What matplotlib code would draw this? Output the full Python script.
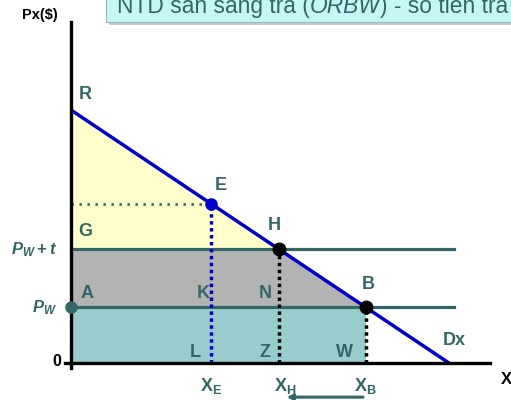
import numpy as np
import matplotlib.pyplot as plt
from matplotlib.patches import Rectangle

plt.rcParams['font.family'] = ['Liberation Sans', 'DejaVu Sans']
plt.rcParams['mathtext.fontset'] = 'custom'
plt.rcParams['mathtext.rm'] = 'Liberation Sans:bold'
plt.rcParams['mathtext.it'] = 'Liberation Sans:italic:bold'
plt.rcParams['mathtext.bf'] = 'Liberation Sans:bold'

# demand Dx: P = p_max - slope * X
p_max = 10.0
x_max = 15.0
p_w = 2.2
p_wt = 4.5
p_e = 6.3
x_e = (p_max - p_e) * x_max / p_max
x_h = (p_max - p_wt) * x_max / p_max
x_b = (p_max - p_w) * x_max / p_max
line_end = 15.2

teal = "#336666"
blue = "#0000cc"

fig = plt.figure(figsize=(5.11, 4.0), dpi=100)
ax = fig.add_axes([71 / 511, 37 / 400, 419 / 511, 341 / 400])
ax.set_xlim(0, 16.63)
ax.set_ylim(0, 13.48)
for s in ax.spines.values():
    s.set_visible(False)
ax.set_xticks([])
ax.set_yticks([])

# areas
ax.fill([0, x_h, 0], [p_max, p_wt, p_wt], color="#ffffcc", lw=0)
ax.fill([0, x_h, x_b, 0], [p_wt, p_wt, p_w, p_w], color="#b3b3b3", lw=0)
ax.fill([0, x_b, x_b, 0], [p_w, p_w, 0, 0], color="#99cccc", lw=0)

# price lines
ax.plot([0, line_end], [p_wt, p_wt], color=teal, lw=2.3)
ax.plot([0, line_end], [p_w, p_w], color=teal, lw=2.3)

# dotted guides
ax.plot([0, x_e], [p_e, p_e], color=teal, lw=1.8, ls=(0, (1, 2.2)))
ax.plot([x_e, x_e], [0, p_e], color=blue, lw=2.5, ls=(0, (1, 1)))
ax.plot([x_h, x_h], [0, p_wt], color="black", lw=2.5, ls=(0, (1, 1)))
ax.plot([x_b, x_b], [0, p_w], color="black", lw=2.5, ls=(0, (1, 1)))

# demand
ax.plot([0, x_max], [p_max, 0], color=blue, lw=2.5)

# axes
ax.plot([0, 0], [0, 13.48], color="black", lw=2.4, clip_on=False)
ax.plot([0, 16.63], [0, 0], color="black", lw=2.4, clip_on=False)
ax.plot([-0.25, 0], [0, 0], color="black", lw=2.4, clip_on=False)
ax.plot([0, 0], [0, -0.2], color="black", lw=2.4, clip_on=False)

# points
ax.plot(x_e, p_e, "o", color=blue, ms=8, zorder=5)
ax.plot([x_h, x_b], [p_wt, p_w], "o", color="black", ms=9, zorder=5)
ax.plot(0, p_w, "o", color=teal, ms=8, zorder=5, clip_on=False)

lab = dict(color=teal, fontsize=13, fontweight="bold", ha="center", va="center")
ax.text(0.55, p_max + 0.6, "R", **lab)
ax.text(x_e + 0.4, p_e + 0.7, "E", **lab)
ax.text(x_h - 0.2, p_wt + 0.95, "H", **lab)
ax.text(0.58, p_wt + 0.7, "G", **lab)
ax.text(0.65, p_w + 0.55, "A", **lab)
ax.text(x_e - 0.3, p_w + 0.55, "K", **lab)
ax.text(x_h - 0.55, p_w + 0.55, "N", **lab)
ax.text(x_b + 0.1, p_w + 0.9, "B", **lab)
ax.text(15.2, 0.9, "Dx", **lab)
ax.text(x_e - 0.6, 0.43, "L", **lab)
ax.text(x_h - 0.55, 0.43, "Z", **lab)
ax.text(x_b - 0.85, 0.43, "W", **lab)
ax.text(x_e, -0.9, r"$\mathbf{X_E}$", **lab)
ax.text(x_h + 0.25, -0.9, r"$\mathbf{X_H}$", **lab)
ax.text(x_b, -0.9, r"$\mathbf{X_B}$", **lab)
ax.text(-1.45, p_wt, r"$P_W + t$", color=teal, fontsize=12, ha="center", va="center")
ax.text(-1.05, p_w, r"$P_W$", color=teal, fontsize=12, ha="center", va="center")
ax.text(-0.55, 0.05, "0", color="black", fontsize=11.5, fontweight="bold", ha="center", va="center")
ax.text(17.3, -0.65, "X", color="black", fontsize=12, fontweight="bold", ha="center", va="center", clip_on=False)

ax.annotate("", xy=(x_h + 0.2, -1.35), xytext=(x_b, -1.35),
            arrowprops=dict(arrowstyle="-|>", color=teal, lw=2.2, mutation_scale=8),
            annotation_clip=False)

fig.text(40 / 511, 1 - 15 / 400, "Px($)", color="black", fontsize=10.5,
         fontweight="bold", ha="center", va="center")

# caption box at top (clipped by figure edge, as in the original slide)
fig.patches.append(Rectangle((109 / 511, 1 - 25 / 400), 1.0, 0.2, transform=fig.transFigure,
                             facecolor="#aaaaaa", edgecolor="none", alpha=0.6))
fig.patches.append(Rectangle((106 / 511, 1 - 22 / 400), 1.0, 0.2, transform=fig.transFigure,
                             facecolor="#c6f7f7", edgecolor="#9ababa", lw=0.8))

renderer = fig.canvas.get_renderer()
parts = [("NTD sẵn sàng trả (", "normal"), ("ORBW", "italic"), (") - số tiền trả", "normal")]
xp = 117 / 511
yb = 1 - 13 / 400
for s, st in parts:
    t = fig.text(xp, yb, s, color=teal, fontsize=16.4, fontstyle=st, ha="left", va="baseline")
    bb = t.get_window_extent(renderer)
    xp += bb.width / fig.bbox.width

plt.savefig("out.png", dpi=100)
